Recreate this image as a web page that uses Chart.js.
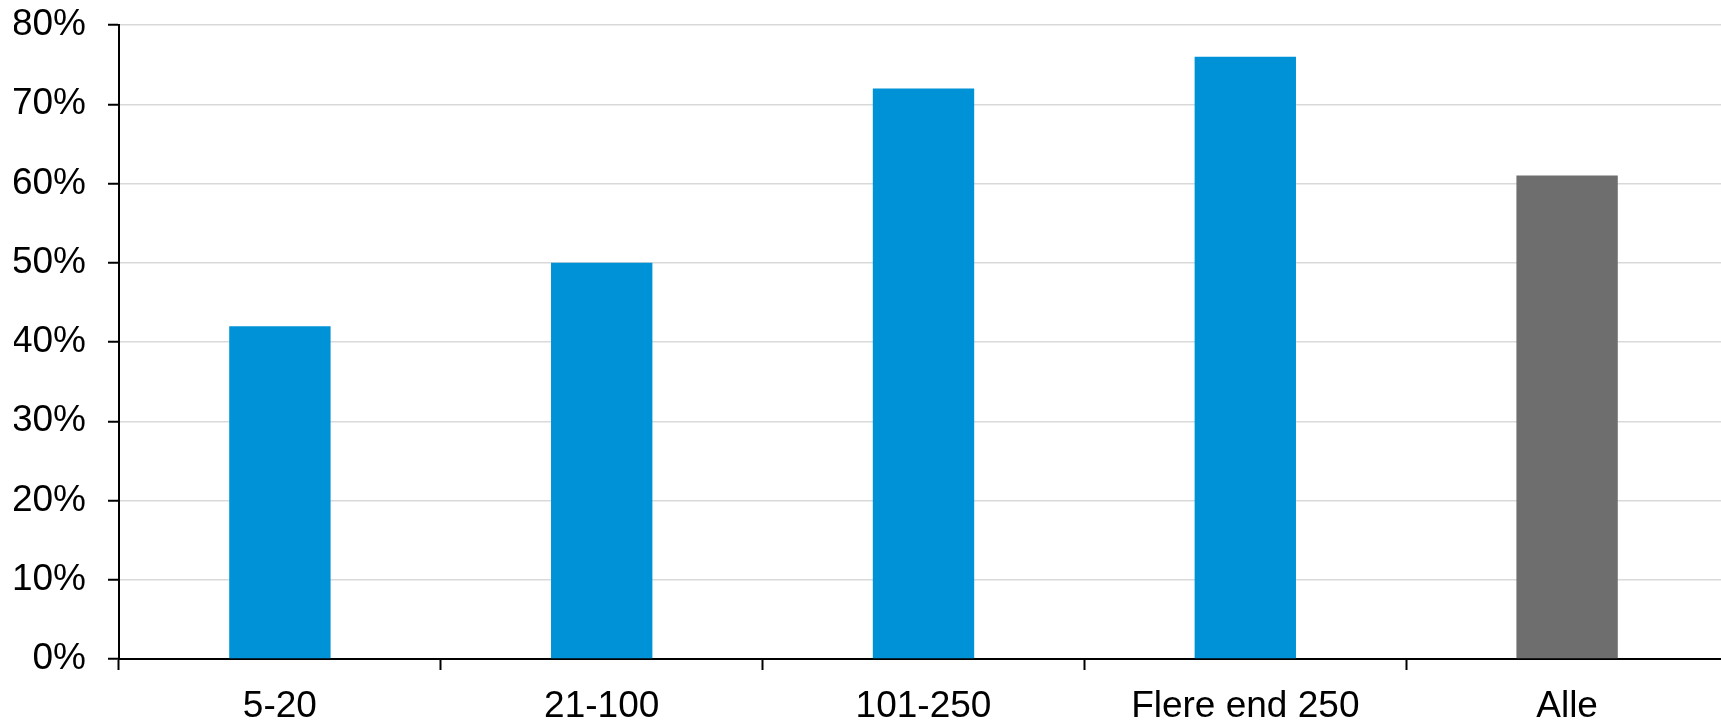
<!DOCTYPE html>
<html lang="da">

<head>
    <meta charset="UTF-8">
    <title>Andel fordelt på virksomhedsstørrelse</title>
    <script src="https://cdn.jsdelivr.net/npm/chart.js"></script>
    <style>
        html, body {
            margin: 0;
            padding: 0;
            background: #ffffff;
            overflow: hidden;
        }
        #sizeChart {
            display: block;
        }
    </style>
</head>

<body>
    <!-- plottet er lidt bredere end vinduet, ligesom i originalen, hvor højre kant er skåret af -->
    <canvas id="sizeChart" width="1728" height="720" style="width:1728px;height:720px"></canvas>

    <script>
        const categories = ['5-20', '21-100', '101-250', 'Flere end 250', 'Alle'];
        const shares = [42, 50, 72, 76, 61];
        const yMin = 0;
        const yMax = 80;
        const yStep = 10;

        const BLUE = '#0092d6';
        const GREY = '#6e6e6e';

        const fontFamily = '"Liberation Sans", Arial, sans-serif';

        const config = {
            type: 'bar',
            data: {
                labels: categories,
                datasets: [{
                    data: shares,
                    backgroundColor: categories.map(c => c === 'Alle' ? GREY : BLUE),
                    borderWidth: 0,
                    categoryPercentage: 1,
                    barPercentage: 0.315
                }]
            },
            options: {
                responsive: false,
                animation: false,
                devicePixelRatio: 1,
                layout: {
                    padding: { top: 25, left: 14, right: 0, bottom: 0 }
                },
                scales: {
                    x: {
                        offset: true,
                        grid: {
                            display: true,
                            offset: true,
                            drawOnChartArea: false,
                            tickLength: 11,
                            tickColor: '#000000',
                            tickWidth: 2
                        },
                        border: { color: '#000000', width: 2 },
                        ticks: {
                            color: '#000000',
                            padding: 18,
                            maxRotation: 0,
                            autoSkip: false,
                            font: { family: fontFamily, size: 37, lineHeight: 1 }
                        },
                        // Chart.js regner padding to gange med, så højden sættes direkte
                        afterFit: function (scale) {
                            scale.height = 61;
                            scale.paddingLeft = 0;
                            scale.paddingRight = 0;
                        }
                    },
                    y: {
                        min: yMin,
                        max: yMax,
                        grid: {
                            color: '#d9d9d9',
                            lineWidth: 1.5,
                            tickLength: 11,
                            tickColor: '#000000',
                            tickWidth: 2
                        },
                        border: { color: '#000000', width: 2 },
                        ticks: {
                            stepSize: yStep,
                            color: '#000000',
                            padding: 22,
                            font: { family: fontFamily, size: 37, lineHeight: 1 },
                            callback: function (value) {
                                return value + '%';
                            }
                        },
                        afterFit: function (scale) {
                            scale.width = 105;
                            scale.paddingTop = 0;
                            scale.paddingBottom = 0;
                        }
                    }
                },
                plugins: {
                    legend: { display: false },
                    tooltip: { enabled: false }
                }
            }
        };

        const ctx = document.getElementById('sizeChart').getContext('2d');
        window.sizeChart = new Chart(ctx, config);
    </script>
</body>

</html>
